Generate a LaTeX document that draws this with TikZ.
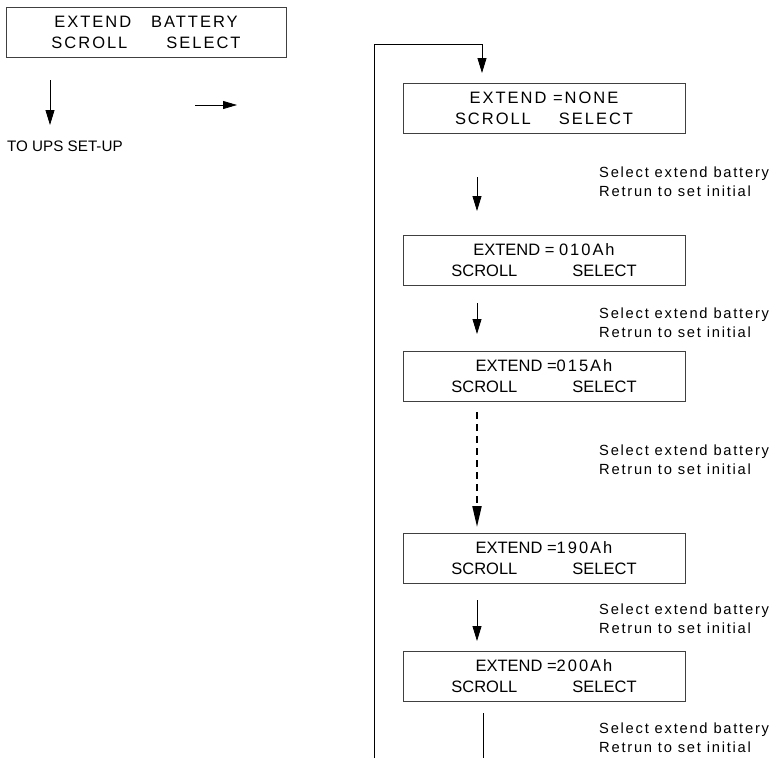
\documentclass[tikz,border=0pt]{standalone}
\usepackage{fontspec}
\setmainfont{Liberation Sans}
\newfontfamily\lsp[LetterSpace=12]{Liberation Sans}
\usetikzlibrary{arrows.meta}
\begin{document}
\begin{tikzpicture}[x=1pt,y=-1pt,
  lcd/.style={draw=black!75,line width=0.8pt,minimum width=282pt,minimum height=50pt,inner sep=0pt,align=center,font=\fontsize{16.5}{21}\selectfont},
  note/.style={anchor=west,align=left,inner sep=0pt,font=\lsp\fontsize{14.7}{19}\selectfont},
  arr/.style={draw=black,line width=0.8pt,-{Triangle[length=15pt,width=9pt]}},
  darr/.style={draw=black,line width=2pt,dash pattern=on 7pt off 5pt,-{Triangle[length=21pt,width=9pt]}},
  plain/.style={draw=black,line width=0.8pt}
]
\useasboundingbox (0,0) rectangle (781,758);

% top-left menu box
\node[lcd,minimum width=280pt] (b0) at (146,32)
  {{\lsp EXTEND\hspace{20pt}BATTERY}\\{\lsp SCROLL\hspace{39pt}SELECT}};
\coordinate (d0a) at (50,80);
\coordinate (d0b) at (50,125);
\draw[arr] (d0a) -- (d0b);
\node[anchor=west,inner sep=0pt,font=\fontsize{15.2}{18}\selectfont] (ups) at (7,146) {TO UPS SET-UP};
\coordinate (r0a) at (195,105);
\coordinate (r0b) at (237,105);
\draw[arr,-{Triangle[length=14pt,width=8pt]}] (r0a) -- (r0b);

% loop
\coordinate (l1) at (374,758);
\coordinate (l2) at (482,44);
\coordinate (l3) at (482,73);
\draw[arr] (l1) |- (l2) -- (l3);

% boxes
\node[lcd] (b1) at (544,108.5)
  {{\lsp EXTEND =NONE}\\{\lsp SCROLL\hspace{28pt}SELECT}};
\node[lcd] (b2) at (544,260)
  {EXTEND = {\lsp 010Ah}\\SCROLL\hspace{55pt}SELECT};
\node[lcd] (b3) at (544,376.5)
  {EXTEND ={\lsp 015Ah}\\SCROLL\hspace{55pt}SELECT};
\node[lcd] (b4) at (544,558.5)
  {EXTEND ={\lsp 190Ah}\\SCROLL\hspace{55pt}SELECT};
\node[lcd] (b5) at (544,676)
  {EXTEND ={\lsp 200Ah}\\SCROLL\hspace{55pt}SELECT};

% arrows between boxes
\coordinate (a1a) at (477,177); \coordinate (a1b) at (477,211);
\draw[arr] (a1a) -- (a1b);
\coordinate (a2a) at (477,303); \coordinate (a2b) at (477,334);
\draw[arr] (a2a) -- (a2b);
\coordinate (a3a) at (477,412); \coordinate (a3b) at (477,527);
\draw[darr] (a3a) -- (a3b);
\coordinate (a4a) at (477,600); \coordinate (a4b) at (477,641);
\draw[arr] (a4a) -- (a4b);
\coordinate (a5a) at (483,713); \coordinate (a5b) at (483,758);
\draw[plain] (a5a) -- (a5b);

% notes
\node[note] (n1) at (599,181.5) {Select extend battery\\Retrun to set initial};
\node[note] (n2) at (599,322.5) {Select extend battery\\Retrun to set initial};
\node[note] (n3) at (599,459.5) {Select extend battery\\Retrun to set initial};
\node[note] (n4) at (599,619) {Select extend battery\\Retrun to set initial};
\node[note] (n5) at (599,737.5) {Select extend battery\\Retrun to set initial};
\end{tikzpicture}
\end{document}
